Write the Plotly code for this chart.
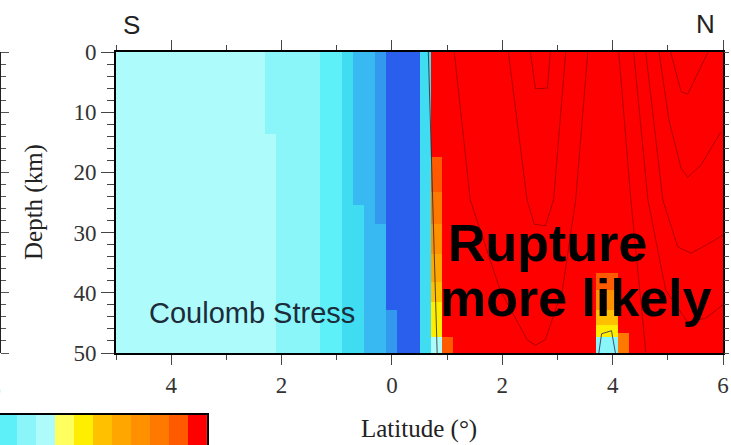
import plotly.graph_objects as go

# colour levels: blue = stress drop ... red = stress increase
level_colors = [
    "#2a5fee", "#3399ee", "#39b9f2", "#3fdcf2", "#5ef0f8", "#8af6fa", "#aefbfb",
    "#ffff60", "#ffee00", "#ffc000", "#ffa600", "#ff9000", "#ff7800", "#ff5a00", "#ff0000",
]

# cross-section grid (degrees, negative = south; depth in km)
col_edges = [-5.0, -2.3, -2.1, -1.3, -0.9, -0.7, -0.5, -0.3, -0.1, 0.1, 0.5, 0.7, 0.9, 1.1, 3.7, 4.1, 4.3, 6.0]
depth_edges = [0, 13.6, 17.4, 23.3, 25.4, 28.6, 33.6, 36.7, 38.2, 39.6, 41.5, 42.9, 45.3, 46.7, 47.3, 50]

# per column, from the surface down: (bottom depth, colour level)
col_profiles = [
    [(50, 6)],
    [(13.6, 5), (50, 6)],
    [(50, 5)],
    [(50, 4)],
    [(50, 3)],
    [(25.4, 2), (50, 3)],
    [(50, 2)],
    [(28.6, 1), (50, 2)],
    [(42.9, 0), (50, 1)],
    [(50, 0)],
    [(50, 3)],
    [(17.4, 14), (23.3, 13), (28.6, 12), (33.6, 11), (38.2, 10), (41.5, 9), (47.3, 8), (50, 6)],
    [(47.3, 14), (50, 13)],
    [(50, 14)],
    [(36.7, 14), (39.6, 13), (42.9, 11), (45.3, 9), (47.3, 8), (50, 5)],
    [(46.7, 14), (50, 12)],
    [(50, 14)],
]

# colour bar cells visible at the bottom left
colorbar_levels = [4, 5, 6, 7, 8, 9, 10, 11, 12, 13, 14]

# contour lines inside the saturated (red) area: (lat list, depth list)
zero_contour = ([0.66, 0.82], [0, 50])
red_contours = [
    ([1.13, 1.42, 1.96, 2.45, 2.60, 2.78, 3.09, 3.33, 3.55], [0, 24.6, 39.5, 47.8, 48.7, 47.8, 39.5, 24.6, 0]),
    ([2.11, 2.45, 2.58, 2.78, 2.93, 3.15], [0, 24.6, 28.6, 28.9, 24.6, 0]),
    ([2.51, 2.60, 2.82, 2.87], [0, 6.1, 6.0, 0]),
    ([5.05, 5.24, 5.36, 5.73], [0, 6.6, 7.0, 0]),
    ([4.84, 5.02, 5.24, 5.36, 5.60, 5.96], [0, 11.3, 19.3, 20.8, 18.8, 13.3]),
    ([4.60, 4.91, 5.18, 5.42, 5.69, 6.0], [0, 24.6, 32.4, 33.4, 32.1, 30.4]),
    ([4.38, 4.64, 4.96, 5.36, 5.69, 6.0], [0, 24.6, 39.5, 44.9, 44.2, 42.0]),
    ([4.11, 4.33, 4.51, 4.60], [0, 24.6, 41.2, 49.8]),
]
bump_contour = ([3.75, 3.80, 3.98, 4.05], [50, 46.8, 46.3, 50])

x_tickvals = [-4, -2, 0, 2, 4, 6]
x_ticktext = ["4", "2", "0", "2", "4", "6"]
y_tickvals = [0, 10, 20, 30, 40, 50]

W, H = 731, 445


def px_x(p):
    return p / W


def px_y(p):
    return 1 - p / H


# build the level grid from the column profiles
z = []
for i in range(len(depth_edges) - 1):
    mid = (depth_edges[i] + depth_edges[i + 1]) / 2
    row = []
    for prof in col_profiles:
        for bottom, lev in prof:
            if mid < bottom:
                row.append(lev)
                break
    z.append(row)

n = len(level_colors)
cscale = []
for k, c in enumerate(level_colors):
    cscale.append([k / n, c])
    cscale.append([(k + 1) / n, c])

serif = "Liberation Serif, Times New Roman, serif"
sans = "Liberation Sans, Arial, sans-serif"

fig = go.Figure()
fig.add_trace(go.Heatmap(
    x=col_edges, y=depth_edges, z=z,
    colorscale=cscale, zmin=-0.5, zmax=n - 0.5,
    showscale=False, hoverinfo="skip",
))

for xs, ds in red_contours:
    fig.add_trace(go.Scatter(x=xs, y=ds, mode="lines", showlegend=False,
                             line=dict(color="rgba(120,0,0,0.6)", width=1), hoverinfo="skip"))
fig.add_trace(go.Scatter(x=zero_contour[0], y=zero_contour[1], mode="lines", showlegend=False,
                         line=dict(color="rgba(40,40,40,0.8)", width=1), hoverinfo="skip"))
fig.add_trace(go.Scatter(x=bump_contour[0], y=bump_contour[1], mode="lines", showlegend=False,
                         line=dict(color="rgba(40,40,80,0.8)", width=1), hoverinfo="skip"))

# right-hand tick axis and the edge of the neighbouring panel
fig.add_trace(go.Scatter(x=[None], y=[None], xaxis="x", yaxis="y3", showlegend=False))
fig.add_trace(go.Scatter(x=[None], y=[None], xaxis="x", yaxis="y4", showlegend=False))

# partial colour bar
fig.add_trace(go.Heatmap(
    z=[colorbar_levels], x=list(range(len(colorbar_levels))), y=[0],
    xaxis="x2", yaxis="y2",
    colorscale=cscale, zmin=-0.5, zmax=n - 0.5, showscale=False, hoverinfo="skip",
))

ydom = [px_y(353), px_y(52)]
fig.update_layout(
    width=W, height=H,
    margin=dict(l=0, r=0, t=0, b=0, autoexpand=False),
    paper_bgcolor="white", plot_bgcolor="white",
    showlegend=False,
    xaxis=dict(
        domain=[px_x(116), px_x(723)], range=[-5, 6],
        tickvals=x_tickvals, ticktext=x_ticktext,
        ticks="outside", ticklen=10, tickwidth=1, tickcolor="#444",
        minor=dict(dtick=1, ticks="outside", ticklen=5, tickcolor="#444"),
        showline=True, linewidth=2, linecolor="black", mirror="ticks",
        showgrid=False, zeroline=False, automargin=False,
        tickfont=dict(family=serif, size=23, color="#333"),
    ),
    yaxis=dict(
        domain=ydom, range=[50, 0],
        tickvals=y_tickvals,
        ticks="outside", ticklen=13, tickwidth=1, tickcolor="#444",
        minor=dict(dtick=2, ticks="outside", ticklen=7, tickcolor="#444"),
        showline=True, linewidth=2, linecolor="black", mirror=True,
        showgrid=False, zeroline=False, automargin=False,
        tickfont=dict(family=serif, size=23, color="#333"),
    ),
    yaxis3=dict(
        domain=ydom, range=[50, 0], overlaying="y", side="right", anchor="x",
        dtick=2, ticks="outside", ticklen=5, tickcolor="#555",
        showticklabels=False, showgrid=False, zeroline=False, automargin=False,
    ),
    yaxis4=dict(
        domain=ydom, range=[50, 0], overlaying="y", side="right", anchor="free", position=0,
        dtick=10, ticks="outside", ticklen=8, tickcolor="#555",
        minor=dict(dtick=2, ticks="outside", ticklen=5, tickcolor="#555"),
        showline=True, linewidth=2, linecolor="#222",
        showticklabels=False, showgrid=False, zeroline=False, automargin=False,
    ),
    xaxis2=dict(
        domain=[0, px_x(207)], range=[-0.39, len(colorbar_levels) - 0.5], anchor="y2",
        side="top", showline=True, linewidth=2, linecolor="black",
        showticklabels=False, ticks="", showgrid=False, zeroline=False, automargin=False,
    ),
    yaxis2=dict(
        domain=[0, 1 - 415 / H], range=[-0.5, 0.5], anchor="x2",
        side="right", showline=True, linewidth=2, linecolor="black",
        showticklabels=False, ticks="", showgrid=False, zeroline=False, automargin=False,
    ),
)

annotations = [
    dict(text="S", x=px_x(131), y=px_y(25), font=dict(family=sans, size=26, color="#222")),
    dict(text="N", x=px_x(705), y=px_y(24), font=dict(family=sans, size=26, color="#222")),
    dict(text="Coulomb Stress", x=px_x(147), y=px_y(313), xanchor="left",
         font=dict(family=sans, size=29, color="#1c2c3a")),
    dict(text="<b>Rupture</b>", x=px_x(446), y=px_y(243), xanchor="left",
         font=dict(family=sans, size=52, color="black")),
    dict(text="<b>more likely</b>", x=px_x(438), y=px_y(298), xanchor="left",
         font=dict(family=sans, size=52, color="black")),
    dict(text="Latitude (°)", x=px_x(419), y=px_y(429), font=dict(family=serif, size=25, color="#222")),
    dict(text="Depth (km)", x=px_x(34), y=px_y(202), textangle=-90,
         font=dict(family=serif, size=25, color="#222")),
    dict(text="6", x=px_x(3), y=px_y(388), xanchor="right", font=dict(family=serif, size=23, color="#333")),
]
for a in annotations:
    a.setdefault("xanchor", "center")
    fig.add_annotation(xref="paper", yref="paper", yanchor="middle", showarrow=False, **a)

# the page's default body margin would shift the whole figure by 8 px
fig.write_html("out.html", config={"displayModeBar": False},
               post_script="document.body.style.margin = '0';")
